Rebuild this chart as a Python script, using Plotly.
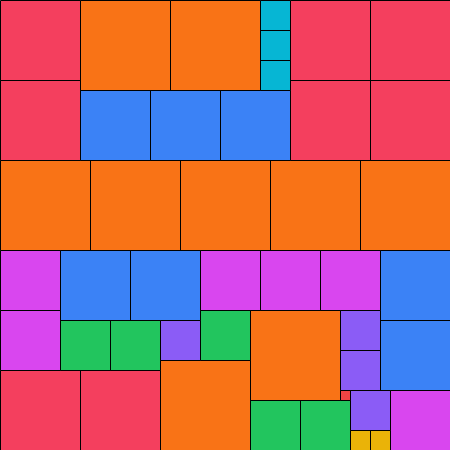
import plotly.graph_objects as go

# Square packing of sizes 1..9 (n copies of size n) into a 45x45 square
sizes = [9, 8, 7, 6, 5, 4, 3, 2, 1]
colors = ["#F97316", "#F43F5E", "#3B82F6", "#D946EF", "#22C55E",
          "#8B5CF6", "#06B6D4", "#EAB308", "#EF4444"]

x9 = [8, 17, 0, 9, 18, 27, 36, 25, 16]
y9 = [0, 0, 16, 16, 16, 16, 16, 31, 36]
x8 = [0, 0, 29, 37, 29, 37, 0, 8]
y8 = [0, 8, 0, 0, 8, 8, 37, 37]
x7 = [8, 15, 22, 6, 13, 38, 38]
y7 = [9, 9, 9, 25, 25, 25, 32]
x6 = [0, 0, 20, 26, 32, 39]
y6 = [25, 31, 25, 25, 25, 39]
x5 = [6, 11, 20, 25, 30]
y5 = [32, 32, 31, 40, 40]
x4 = [16, 34, 34, 35]
y4 = [32, 31, 35, 39]
x3 = [26, 26, 26]
y3 = [0, 3, 6]
x2 = [35, 37]
y2 = [43, 43]
x1 = [34]
y1 = [39]

xs = [x9, x8, x7, x6, x5, x4, x3, x2, x1]
ys = [y9, y8, y7, y6, y5, y4, y3, y2, y1]

fig = go.Figure()
for s, c, xl, yl in zip(sizes, colors, xs, ys):
    px, py = [], []
    for x0, y0 in zip(xl, yl):
        px += [x0, x0 + s, x0 + s, x0, x0, None]
        py += [y0, y0, y0 + s, y0 + s, y0, None]
    fig.add_trace(go.Scatter(
        x=px, y=py, mode="lines", fill="toself", fillcolor=c,
        line=dict(color="#000000", width=1), hoverinfo="skip",
        showlegend=False,
    ))

# half-pixel offset so 1px borders render crisply
fig.update_layout(
    width=450, height=450, autosize=False,
    margin=dict(l=0, r=0, t=0, b=0, pad=0),
    paper_bgcolor="white", plot_bgcolor="white",
    xaxis=dict(range=[-0.05, 44.95], visible=False, fixedrange=True),
    yaxis=dict(range=[44.95, -0.05], visible=False, fixedrange=True),
)

fig.write_html("out.html", config={"displayModeBar": False},
               post_script="document.body.style.margin='0';")
